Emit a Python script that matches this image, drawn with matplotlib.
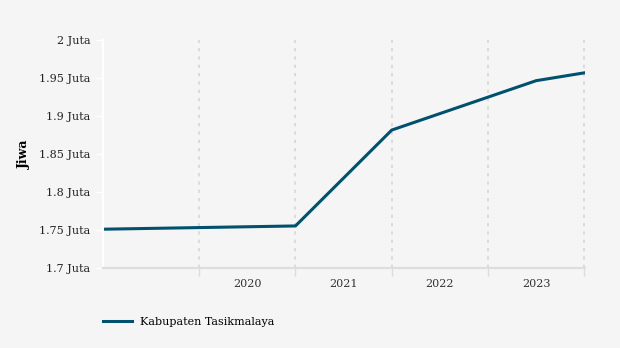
import matplotlib.pyplot as plt
import matplotlib.ticker as mticker

# data (x in fractional years, y in juta jiwa)
tahun = [2019.0, 2021.0, 2022.0, 2023.5, 2024.0]
penduduk = [1.751, 1.7553, 1.8815, 1.9465, 1.9568]
label_tahun = ["2020", "2021", "2022", "2023"]
seri = "Kabupaten Tasikmalaya"

bg = "#f5f5f5"
warna = "#00506e"

plt.rcParams["font.family"] = "DejaVu Serif"

fig = plt.figure(figsize=(6.2, 3.48), dpi=100, facecolor=bg)
ax = fig.add_axes([0.166, 0.230, 0.778, 0.655], facecolor=bg)

ax.plot(tahun, penduduk, color=warna, linewidth=2.2, label=seri, solid_joinstyle="miter")

ax.set_xlim(2019, 2024.01)
ax.set_ylim(1.7, 2.0)

# gridlines at year boundaries, labels in the middle of each year
ax.set_xticks([2020, 2021, 2022, 2023, 2024])
ax.set_xticks([2020.5, 2021.5, 2022.5, 2023.5], minor=True)
ax.set_xticklabels([])
ax.set_xticklabels(label_tahun, minor=True)
ax.tick_params(axis="x", which="major", length=6, color="#dddddd", width=1)
ax.tick_params(axis="x", which="minor", length=0, pad=8, labelsize=8, labelcolor="#333333")
ax.grid(axis="x", which="major", color="#d6d6d6", linestyle=(0, (2, 3)), linewidth=1.2)

ax.yaxis.set_major_locator(mticker.MultipleLocator(0.05))
ax.yaxis.set_major_formatter(mticker.FuncFormatter(lambda v, p: f"{v:g} Juta"))
ax.tick_params(axis="y", length=5, color="white", width=1, labelsize=8, labelcolor="#222222", pad=4)

for s in ["top", "right"]:
    ax.spines[s].set_visible(False)
ax.spines["left"].set_color("white")
ax.spines["left"].set_linewidth(1.5)
ax.spines["bottom"].set_color("#dddddd")
ax.spines["bottom"].set_linewidth(1.5)

ax.set_ylabel("Jiwa", fontsize=9, fontweight="bold")
ax.yaxis.set_label_coords(-0.15, 0.5)

leg = fig.legend(loc="lower left", bbox_to_anchor=(0.15, 0.033), frameon=False,
                 fontsize=8, handlelength=2.6, handletextpad=0.75)

fig.savefig("out.png", dpi=100, facecolor=bg)
